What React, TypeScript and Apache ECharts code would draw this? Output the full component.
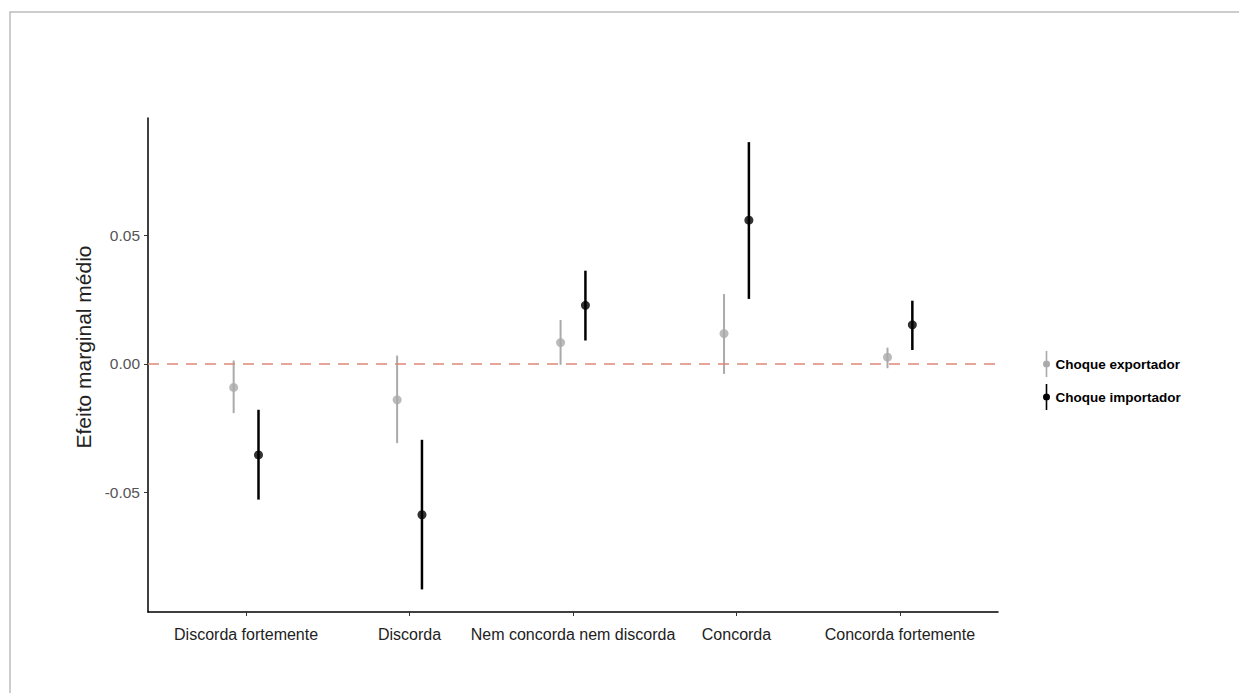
import React, { useEffect, useRef } from "react";
import * as echarts from "echarts";

const categories = [
  "Discorda fortemente",
  "Discorda",
  "Nem concorda nem discorda",
  "Concorda",
  "Concorda fortemente",
];
const seriesNames = ["Choque exportador", "Choque importador"];
const yTitle = "Efeito marginal médio";
const exportEst = [-0.0092, -0.014, 0.0083, 0.0118, 0.0026];
const exportLo = [-0.0192, -0.0309, -0.0004, -0.0039, -0.0017];
const exportHi = [0.0013, 0.0032, 0.0171, 0.0272, 0.0063];
const importEst = [-0.0355, -0.0588, 0.0228, 0.056, 0.0152];
const importLo = [-0.0529, -0.0879, 0.0091, 0.0253, 0.0054];
const importHi = [-0.0179, -0.0296, 0.0363, 0.0864, 0.0246];
const yTicks = [-0.05, 0, 0.05];
const dodge = 0.076;
const colors = ["#aaaaaa", "#000000"];

const legendIcon =
  "path://M4.2,0 H5.8 V26 H4.2 Z M5,9.5 A3.5,3.5 0 1 1 5,16.5 A3.5,3.5 0 1 1 5,9.5 Z";

export default function App() {
  const ref = useRef<HTMLDivElement>(null);
  useEffect(() => {
    if (!ref.current) return;
    const chart = echarts.init(ref.current, undefined, { renderer: "svg" });
    const groups = [
      { est: exportEst, lo: exportLo, hi: exportHi, off: -dodge, width: 2 },
      { est: importEst, lo: importLo, hi: importHi, off: dodge, width: 2.5 },
    ];
    const series: any[] = [];
    groups.forEach((g, gi) => {
      series.push({
        type: "custom",
        name: seriesNames[gi],
        data: g.est.map((_, i) => [i + 1 + g.off, g.lo[i], g.hi[i]]),
        renderItem: (params: any, api: any) => {
          const x = api.value(0);
          const p1 = api.coord([x, api.value(1)]);
          const p2 = api.coord([x, api.value(2)]);
          return {
            type: "line",
            shape: { x1: p1[0], y1: p1[1], x2: p2[0], y2: p2[1] },
            style: { stroke: colors[gi], lineWidth: g.width },
          };
        },
        z: 3,
        silent: true,
      });
      series.push({
        type: "scatter",
        name: seriesNames[gi],
        data: g.est.map((v, i) => [i + 1 + g.off, v]),
        symbol: "circle",
        symbolSize: 9,
        itemStyle: { color: colors[gi] },
        z: 4,
        silent: true,
      });
    });
    series.push({
      type: "line",
      name: "zero",
      data: [],
      markLine: {
        silent: true,
        symbol: "none",
        label: { show: false },
        lineStyle: { color: "#dd8878", type: [11, 8], width: 1.6 },
        data: [{ yAxis: 0 }],
      },
      z: 2,
    });

    chart.setOption({
      animation: false,
      backgroundColor: "#ffffff",
      textStyle: { fontFamily: "Liberation Sans, Arial, sans-serif" },
      grid: { left: 148, right: 241, top: 118, bottom: 81, containLabel: false },
      legend: {
        orient: "vertical",
        left: 1043,
        top: 351,
        padding: 0,
        itemWidth: 8,
        itemHeight: 26,
        itemGap: 7,
        data: seriesNames.map((n, i) => ({
          name: n,
          icon: legendIcon,
          itemStyle: { color: colors[i] },
        })),
        textStyle: { fontSize: 13.5, fontWeight: "bold", color: "#000" },
        selectedMode: false,
      },
      xAxis: {
        type: "value",
        min: 0.4,
        max: 5.6,
        splitLine: { show: false },
        axisLine: { onZero: false, lineStyle: { color: "#000", width: 1.5 } },
        axisTick: {
          show: true,
          length: 4,
          customValues: [1, 2, 3, 4, 5],
          lineStyle: { color: "#333" },
        },
        axisLabel: {
          customValues: [1, 2, 3, 4, 5],
          formatter: (v: number) => categories[Math.round(v) - 1] ?? "",
          fontSize: 16,
          color: "#222",
          margin: 14,
        },
      },
      yAxis: {
        type: "value",
        min: -0.0967,
        max: 0.0958,
        splitLine: { show: false },
        axisLine: { show: true, onZero: false, lineStyle: { color: "#000", width: 1.5 } },
        axisTick: {
          show: true,
          length: 4,
          customValues: yTicks,
          lineStyle: { color: "#333" },
        },
        axisLabel: {
          customValues: yTicks,
          formatter: (v: number) => v.toFixed(2),
          fontSize: 15.5,
          color: "#555",
          margin: 8,
        },
      },
      graphic: [
        {
          type: "rect",
          shape: { x: 10, y: 12, width: 1400, height: 900 },
          style: { fill: "none", stroke: "#bdbdbd", lineWidth: 1.5 },
          silent: true,
        },
        {
          type: "text",
          x: 83,
          y: 347,
          rotation: Math.PI / 2,
          style: {
            text: yTitle,
            fontSize: 21,
            fill: "#222",
            align: "center",
            verticalAlign: "middle",
            fontFamily: "Liberation Sans, Arial, sans-serif",
          },
          silent: true,
        },
      ],
      series,
    });
    return () => chart.dispose();
  }, []);
  return (
    <div
      ref={ref}
      style={{ position: "fixed", left: 0, top: 0, width: 1239, height: 693 }}
    />
  );
}
